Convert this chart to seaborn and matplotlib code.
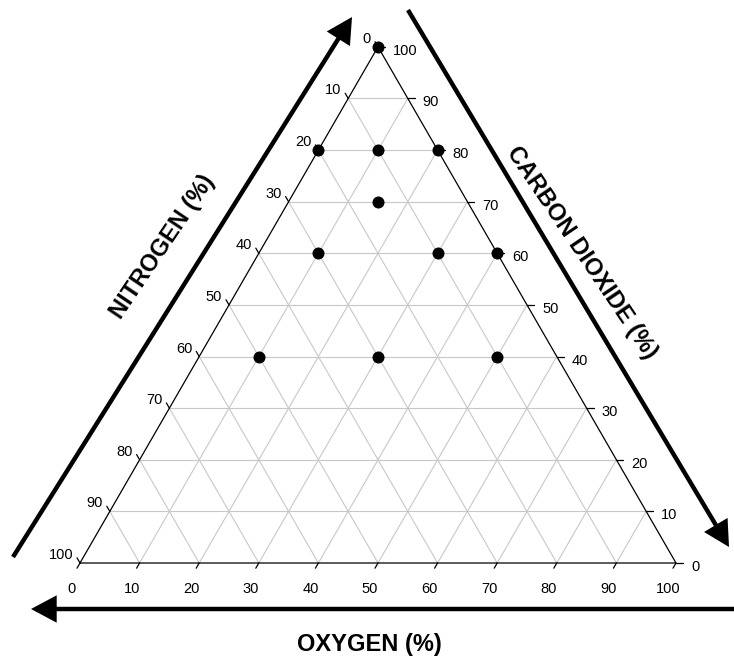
import numpy as np
import pandas as pd
import matplotlib
matplotlib.use("Agg")
import matplotlib.pyplot as plt
from matplotlib.patches import FancyArrowPatch
import seaborn as sns

# ---- data (percentages) ----
carbon_dioxide = [100, 80, 80, 80, 70, 60, 60, 60, 40, 40, 40]
oxygen         = [0, 0, 10, 20, 15, 10, 30, 40, 10, 30, 50]
nitrogen       = [0, 20, 10, 0, 15, 30, 10, 0, 50, 30, 10]
tick_values = [0, 10, 20, 30, 40, 50, 60, 70, 80, 90, 100]
grid_values = [10, 20, 30, 40, 50, 60, 70, 80, 90]

sns.set_theme(style="white")
plt.rcParams['font.family'] = ['Liberation Sans', 'DejaVu Sans']

W, H = 734, 656
SCALE = 596.0          # pixels per unit side length
X0, Y0 = 80.0, 563.0   # pixel position of bottom-left vertex
R3 = np.sqrt(3) / 2
P = 1.0 / SCALE        # one pixel in data units

def tern(o2, co2):
    o2 = np.asarray(o2, float); co2 = np.asarray(co2, float)
    return o2 / 100 + co2 / 200, co2 / 100 * R3

def pix(x, y):
    return (x - X0) / SCALE, (Y0 - y) / SCALE

fig = plt.figure(figsize=(W / 100, H / 100), dpi=100)
ax = fig.add_axes([0, 0, 1, 1])
ax.set_xlim(-X0 / SCALE, (W - X0) / SCALE)
ax.set_ylim(-(H - Y0) / SCALE, Y0 / SCALE)
ax.axis("off")

grid_kw = dict(color="#c8c8c8", lw=0.8, zorder=1)
for v in grid_values:
    # constant CO2
    xa, ya = tern(0, v); xb, yb = tern(100 - v, v)
    ax.plot([xa, xb], [ya, yb], **grid_kw)
    # constant O2
    xa, ya = tern(v, 0); xb, yb = tern(v, 100 - v)
    ax.plot([xa, xb], [ya, yb], **grid_kw)
    # constant N2
    xa, ya = tern(100 - v, 0); xb, yb = tern(0, 100 - v)
    ax.plot([xa, xb], [ya, yb], **grid_kw)

# triangle border
bx, by = tern([0, 100, 0, 0], [0, 0, 100, 0])
ax.plot(bx, by, color="black", lw=0.9, zorder=2)

tl = 6 * P
lab_kw = dict(fontsize=10.5, color="black")
for v in tick_values:
    # bottom: oxygen
    x, y = tern(v, 0)
    ax.plot([x, x - 0.5 * tl], [y, y - R3 * tl], color="black", lw=0.9)
    ax.text(x - 8 * P, y - 26 * P, str(v), ha="center", va="center", **lab_kw)
    # left: nitrogen
    x, y = tern(0, 100 - v)
    ax.plot([x, x - 0.5 * tl], [y, y + R3 * tl], color="black", lw=0.9)
    ax.text(x - 7 * P, y + 8 * P, str(v), ha="right", va="center", **lab_kw)
    # right: carbon dioxide
    x, y = tern(100 - v, v)
    ax.plot([x, x + 7 * P], [y, y], color="black", lw=0.9)
    ax.text(x + 15 * P, y - 4 * P, str(v), ha="left", va="center", **lab_kw)

# data points
px_, py_ = tern(oxygen, carbon_dioxide)
df = pd.DataFrame({"x": px_, "y": py_, "N2": nitrogen})
sns.scatterplot(data=df, x="x", y="y", ax=ax, color="black", s=75,
                edgecolor="black", linewidth=0, zorder=5, legend=False)
ax.set_xlabel(""); ax.set_ylabel("")
ax.axis("off")

# arrows
def arrow(p0, p1):
    a = FancyArrowPatch(pix(*p0), pix(*p1),
                        arrowstyle="-|>,head_length=0.9,head_width=0.48",
                        mutation_scale=15, lw=3.2, color="black",
                        shrinkA=0, shrinkB=0, joinstyle="miter", capstyle="butt")
    ax.add_patch(a)

arrow((13, 557), (352, 17))
arrow((408, 10), (729, 547))
arrow((740, 609), (31, 609))

title_kw = dict(fontsize=17, fontweight="bold", color="black",
                ha="center", va="center", rotation_mode="anchor")
ax.text(*pix(163, 247), "NITROGEN (%)", rotation=56, **title_kw)
ax.text(*pix(582, 253), "CARBON DIOXIDE (%)", rotation=-56, **title_kw)
ax.text(*pix(369, 644), "OXYGEN (%)", **title_kw)

fig.savefig("out.png", dpi=100)
